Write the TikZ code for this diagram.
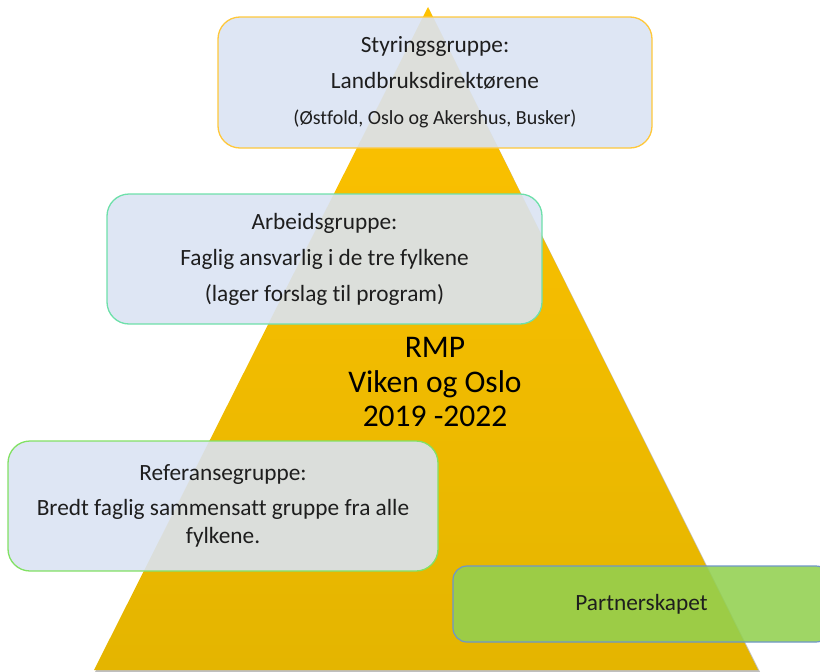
\documentclass[tikz,border=0pt]{standalone}
\usepackage{fontspec}
\setmainfont{Carlito}[Ligatures={NoCommon}]
\definecolor{triTop}{RGB}{255,194,0}
\definecolor{triBot}{RGB}{228,181,0}
\definecolor{boxFill}{RGB}{218,227,243}
\definecolor{bdOrange}{RGB}{255,200,60}
\definecolor{bdMint}{RGB}{110,224,170}
\definecolor{bdGreen}{RGB}{130,225,100}
\definecolor{partFill}{RGB}{146,208,80}
\definecolor{partBorder}{RGB}{110,150,200}
\definecolor{txt}{RGB}{30,30,30}
\tikzset{
  groupbox/.style={rectangle, rounded corners=22pt, fill=boxFill, fill opacity=0.9, text opacity=1, line width=1.3pt, align=center, text=txt, inner sep=0pt},
  bodyfont/.style={font=\fontsize{23.3}{28}\selectfont},
}
\begin{document}
\begin{tikzpicture}[x=1pt,y=-1pt]
\useasboundingbox (0,0) rectangle (820,672);
\clip (0,0) rectangle (820,672);
% shadow and pyramid
\fill[black, opacity=0.25] (429,9) -- (760,672) -- (95,672) -- cycle;
\shade[top color=triTop, bottom color=triBot] (428,7) -- (758,670) -- (94,670) -- cycle;
% boxes
\node[groupbox, draw=bdOrange, minimum width=434pt, minimum height=131pt, bodyfont] (styr) at (435,82.5)
  {Styringsgruppe:\\[8pt] Landbruksdirektørene\\[8pt] {\fontsize{20}{24}\selectfont (Østfold, Oslo og Akershus, Busker)}};
\node[groupbox, draw=bdMint, minimum width=435pt, minimum height=130pt, bodyfont] (arb) at (324.5,259)
  {Arbeidsgruppe:\\[8pt] Faglig ansvarlig i de tre fylkene\\[8pt] (lager forslag til program)};
\node[groupbox, draw=bdGreen, minimum width=430pt, minimum height=130pt, bodyfont] (ref) at (223,506)
  {Referansegruppe:\\[7pt] Bredt faglig sammensatt gruppe fra alle\\ fylkene.};
% title
\node[align=center, text=black, font=\fontsize{31.5}{34.5}\selectfont, inner sep=0pt] (rmp) at (435,382)
  {RMP\\ Viken og Oslo\\ 2019 -2022};
% partnership
\node[rectangle, rounded corners=14pt, fill=partFill, fill opacity=0.88, text opacity=1, draw=partBorder, line width=1.2pt, minimum width=377pt, minimum height=76pt, font=\fontsize{23.3}{28}\selectfont, text=txt, inner sep=0pt] (part) at (641.5,604) {Partnerskapet};
\end{tikzpicture}
\end{document}
